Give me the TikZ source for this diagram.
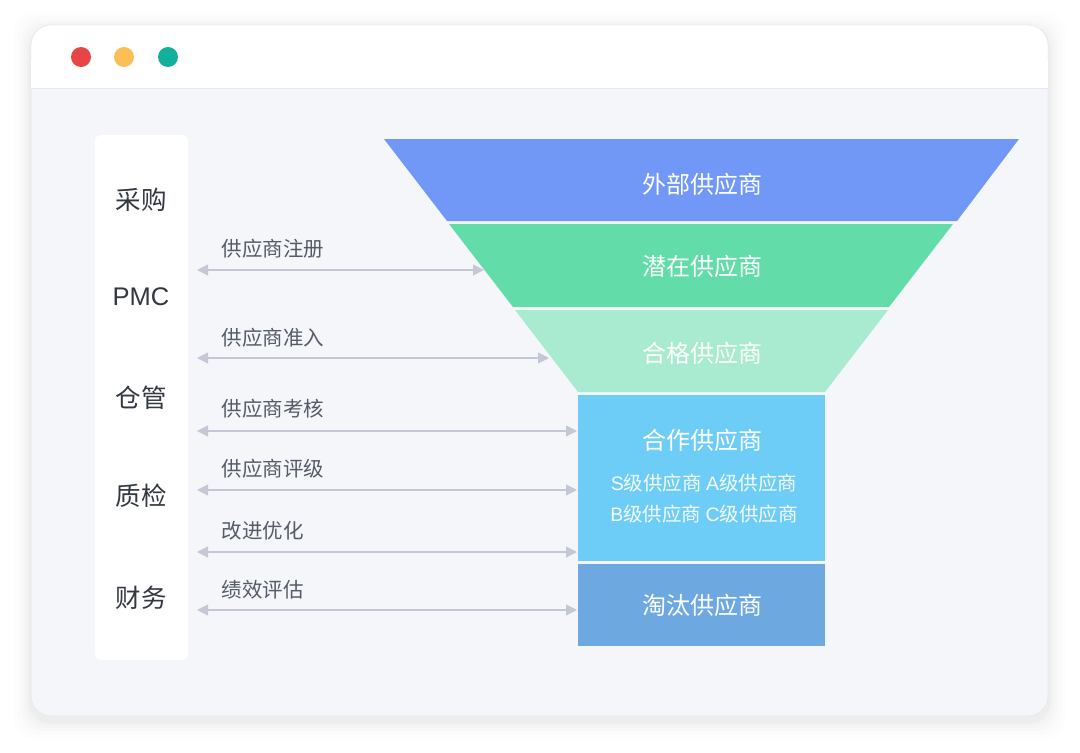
\documentclass[tikz,border=0pt]{standalone}
\usepackage{fontspec}
\setmainfont{Noto Sans CJK SC}
\newfontfamily\latinf{Liberation Sans}
\usetikzlibrary{arrows.meta}
\definecolor{bodybg}{HTML}{F4F6FA}
\definecolor{lineC}{HTML}{E6E9EF}
\definecolor{dotR}{HTML}{E84646}
\definecolor{dotY}{HTML}{FBBF55}
\definecolor{dotG}{HTML}{12B09A}
\definecolor{layA}{HTML}{7197F7}
\definecolor{layB}{HTML}{62DCA8}
\definecolor{layC}{HTML}{A8EBD0}
\definecolor{layD}{HTML}{6ECDF6}
\definecolor{layE}{HTML}{6DA9E0}
\definecolor{arrC}{HTML}{C3C8D4}
\definecolor{labC}{HTML}{555B66}
\definecolor{roleC}{HTML}{333740}
\tikzset{
  dot/.style={circle,minimum size=20pt,inner sep=0pt},
  role/.style={text=roleC,font=\fontsize{25.5}{30}\selectfont},
  flabel/.style={text=labC,font=\fontsize{20.5}{24}\selectfont,anchor=west},
  ftitle/.style={text=white,font=\fontsize{24}{28}\selectfont},
  fsub/.style={text=white!92!layD,font=\fontsize{19.5}{23}\selectfont},
  link/.style={draw=arrC,line width=1.1pt,{Triangle[length=11pt,width=11pt]}-{Triangle[length=11pt,width=11pt]}},
}
\begin{document}
\begin{tikzpicture}[x=1pt,y=-1pt]
\useasboundingbox (0,0) rectangle (1080,753);
\fill[white] (0,0) rectangle (1080,753);
% shadow
\foreach \i/\o in {18/0.006,14/0.008,10/0.01,7/0.012,4/0.014,2/0.016}{
  \fill[black,opacity=\o,rounded corners=22pt] (31-\i,25-\i+5) rectangle (1048+\i,716+\i+5);
}
% window
\fill[bodybg,rounded corners=20pt] (31,25) rectangle (1048,716);
\draw[lineC,line width=0.8pt,rounded corners=20pt] (31,25) rectangle (1048,716);
\fill[white,rounded corners=20pt] (31.4,25.4) -- (1047.6,25.4) -- (1047.6,88) -- (31.4,88) -- cycle;
\fill[white] (31.4,60) rectangle (1047.6,88);
\draw[lineC,line width=1pt] (31.4,88) -- (1047.6,88);
\node[dot,fill=dotR] (dr) at (81,57) {};
\node[dot,fill=dotY] (dy) at (124,57) {};
\node[dot,fill=dotG] (dg) at (168,57) {};
% left panel
\fill[white,rounded corners=6pt] (95,135) rectangle (188,660);
\node[role] (r1) at (141,200) {采购};
\node[role] (r2) at (141,297) {\latinf PMC};
\node[role] (r3) at (141,398) {仓管};
\node[role] (r4) at (141,496) {质检};
\node[role] (r5) at (141,598) {财务};
% funnel
\fill[layA] (384,139) -- (1019,139) -- (957,221) -- (447,221) -- cycle;
\fill[layB] (449,224) -- (953,224) -- (889,307) -- (513,307) -- cycle;
\fill[layC] (515,310) -- (888,310) -- (825,392) -- (578,392) -- cycle;
\fill[layD] (578,395) rectangle (825,561);
\fill[layE] (578,564) rectangle (825,646);
\node[ftitle] (f1) at (702,184) {外部供应商};
\node[ftitle] (f2) at (702,266) {潜在供应商};
\node[ftitle] (f3) at (702,353) {合格供应商};
\node[ftitle] (f4) at (702,440) {合作供应商};
\node[fsub] (f4a) at (704,483) {{\latinf S}级供应商 {\latinf A}级供应商};
\node[fsub] (f4b) at (704,514) {{\latinf B}级供应商 {\latinf C}级供应商};
\node[ftitle] (f5) at (702,605) {淘汰供应商};
% connectors
\coordinate (a1l) at (197,270); \coordinate (a1r) at (484,270);
\coordinate (a2l) at (197,358); \coordinate (a2r) at (549,358);
\coordinate (a3l) at (197,431); \coordinate (a3r) at (577,431);
\coordinate (a4l) at (197,490); \coordinate (a4r) at (577,490);
\coordinate (a5l) at (197,552); \coordinate (a5r) at (577,552);
\coordinate (a6l) at (197,610); \coordinate (a6r) at (577,610);
\draw[link] (a1l) -- (a1r);
\draw[link] (a2l) -- (a2r);
\draw[link] (a3l) -- (a3r);
\draw[link] (a4l) -- (a4r);
\draw[link] (a5l) -- (a5r);
\draw[link] (a6l) -- (a6r);
\node[flabel] (l1) at (218,249) {供应商注册};
\node[flabel] (l2) at (218,338) {供应商准入};
\node[flabel] (l3) at (218,409) {供应商考核};
\node[flabel] (l4) at (218,469) {供应商评级};
\node[flabel] (l5) at (218,531) {改进优化};
\node[flabel] (l6) at (218,590) {绩效评估};
\end{tikzpicture}
\end{document}
